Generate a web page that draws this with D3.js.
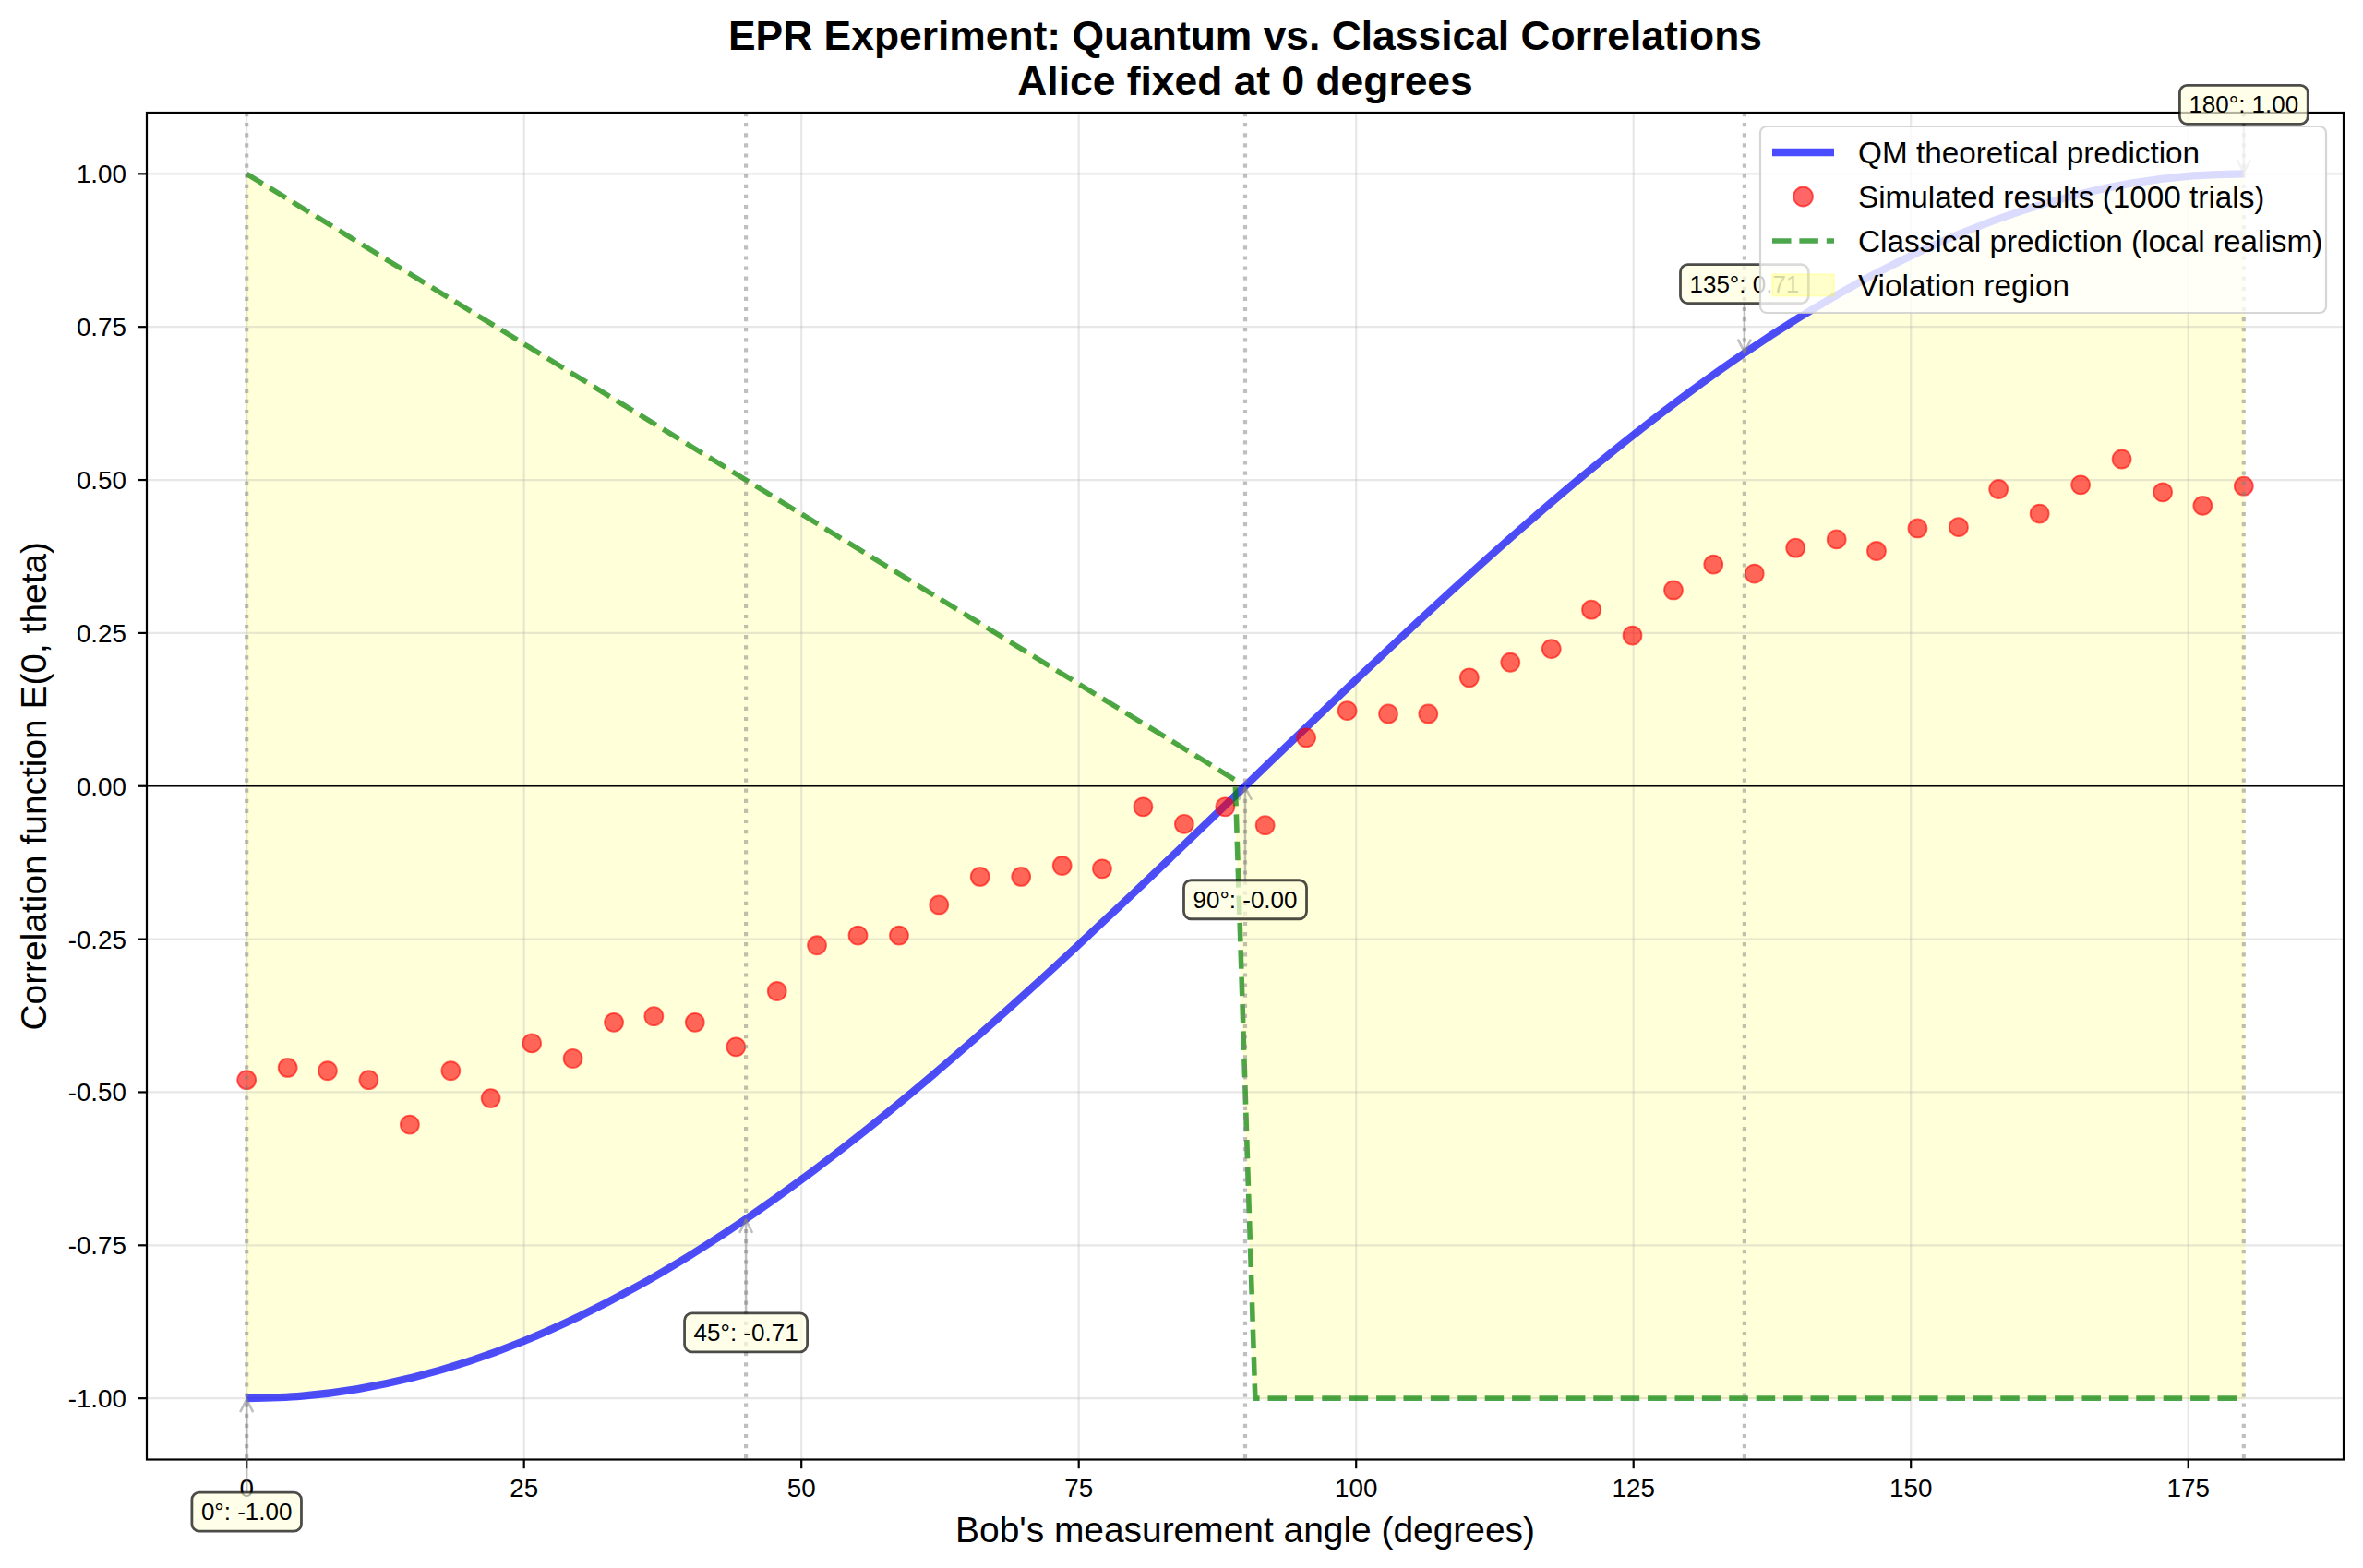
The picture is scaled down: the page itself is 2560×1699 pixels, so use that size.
<!doctype html>
<html>
<head>
<meta charset="utf-8">
<script src="https://d3js.org/d3.v7.min.js"></script>
<style>
  body { margin: 0; background: #fff; }
  svg text { font-family: "Liberation Sans", Arial, sans-serif; }
</style>
</head>
<body>
<svg id="svg" width="2560" height="1699"></svg>
<script>
// QM theoretical prediction, read every 5 degrees
const qmAngles = [0, 5, 10, 15, 20, 25, 30, 35, 40, 45, 50, 55, 60, 65, 70, 75, 80, 85, 90,
                  95, 100, 105, 110, 115, 120, 125, 130, 135, 140, 145, 150, 155, 160, 165, 170, 175, 180];
const qmValues = [-1.0, -0.9962, -0.9848, -0.9659, -0.9397, -0.9063, -0.866, -0.8192, -0.766, -0.7071,
                  -0.6428, -0.5736, -0.5, -0.4226, -0.342, -0.2588, -0.1736, -0.0872, 0.0,
                  0.0872, 0.1736, 0.2588, 0.342, 0.4226, 0.5, 0.5736, 0.6428, 0.7071, 0.766,
                  0.8192, 0.866, 0.9063, 0.9397, 0.9659, 0.9848, 0.9962, 1.0];

// classical (local realism) prediction
const clAngles = [0, 89.1, 90.9, 180];
const clValues = [1.0, 0.01, -1.0, -1.0];

// simulated results (1000 trials)
const simAngles = [0, 3.7, 7.3, 11.0, 14.7, 18.4, 22.0, 25.7, 29.4, 33.1, 36.7, 40.4, 44.1, 47.8,
                   51.4, 55.1, 58.8, 62.4, 66.1, 69.8, 73.5, 77.1, 80.8, 84.5, 88.2, 91.8, 95.5,
                   99.2, 102.9, 106.5, 110.2, 113.9, 117.6, 121.2, 124.9, 128.6, 132.2, 135.9,
                   139.6, 143.3, 146.9, 150.6, 154.3, 157.9, 161.6, 165.3, 169.0, 172.7, 176.3, 180.0];
const simValues = [-0.48, -0.46, -0.465, -0.48, -0.553, -0.465, -0.51, -0.42, -0.445, -0.386,
                   -0.376, -0.386, -0.426, -0.335, -0.26, -0.244, -0.244, -0.194, -0.148, -0.148,
                   -0.13, -0.135, -0.034, -0.062, -0.034, -0.064, 0.079, 0.123, 0.118, 0.118,
                   0.177, 0.202, 0.224, 0.288, 0.246, 0.32, 0.362, 0.347, 0.389, 0.403,
                   0.384, 0.421, 0.423, 0.485, 0.445, 0.492, 0.534, 0.48, 0.458, 0.49];

// annotated angles
const markAngles = [0, 45, 90, 135, 180];
const markValues = [-1.0, -0.7071, -0.0, 0.7071, 1.0];
const markLabels = ["0°: -1.00", "45°: -0.71", "90°: -0.00", "135°: 0.71", "180°: 1.00"];

const xTicks = [0, 25, 50, 75, 100, 125, 150, 175];
const yTicks = [-1.0, -0.75, -0.5, -0.25, 0.0, 0.25, 0.5, 0.75, 1.0];

const legendLabels = ["QM theoretical prediction", "Simulated results (1000 trials)",
                      "Classical prediction (local realism)", "Violation region"];

const margin = { left: 159, right: 2539, top: 122, bottom: 1581.5 };

const svg = d3.select("#svg");
const x = d3.scaleLinear().domain([-9, 189]).range([margin.left, margin.right]);
const y = d3.scaleLinear().domain([-1.1, 1.1]).range([margin.bottom, margin.top]);

const qm = qmAngles.map((a, i) => [a, qmValues[i]]);
const cl = clAngles.map((a, i) => [a, clValues[i]]);

const lineQM = d3.line().x(d => x(d[0])).y(d => y(d[1])).curve(d3.curveMonotoneX);
const lineCL = d3.line().x(d => x(d[0])).y(d => y(d[1]));

svg.append("defs").append("clipPath").attr("id", "clip")
  .append("rect")
  .attr("x", margin.left).attr("y", margin.top)
  .attr("width", margin.right - margin.left).attr("height", margin.bottom - margin.top);

const plot = svg.append("g").attr("clip-path", "url(#clip)");

// violation region fill
const fillPath = lineQM(qm) + lineCL(cl.slice().reverse()).replace(/^M/, "L") + "Z";
plot.append("path")
  .attr("d", fillPath)
  .attr("fill", "yellow").attr("fill-opacity", 0.15)
  .attr("stroke", "yellow").attr("stroke-opacity", 0.15).attr("stroke-width", 2);

// grid
plot.append("g").selectAll("line").data(xTicks).join("line")
  .attr("x1", d => x(d)).attr("x2", d => x(d))
  .attr("y1", margin.top).attr("y2", margin.bottom)
  .attr("stroke", "#b0b0b0").attr("stroke-opacity", 0.3).attr("stroke-width", 2.2);
plot.append("g").selectAll("line").data(yTicks).join("line")
  .attr("y1", d => y(d)).attr("y2", d => y(d))
  .attr("x1", margin.left).attr("x2", margin.right)
  .attr("stroke", "#b0b0b0").attr("stroke-opacity", 0.3).attr("stroke-width", 2.2);

// zero line
plot.append("line")
  .attr("x1", margin.left).attr("x2", margin.right)
  .attr("y1", y(0)).attr("y2", y(0))
  .attr("stroke", "#000").attr("stroke-width", 1.6);

// QM curve
plot.append("path").attr("d", lineQM(qm))
  .attr("fill", "none").attr("stroke", "blue").attr("stroke-opacity", 0.7)
  .attr("stroke-width", 8.3);

// simulated points
plot.append("g").selectAll("circle").data(simAngles).join("circle")
  .attr("cx", d => x(d)).attr("cy", (d, i) => y(simValues[i])).attr("r", 10)
  .attr("fill", "red").attr("fill-opacity", 0.6)
  .attr("stroke", "red").attr("stroke-opacity", 0.6).attr("stroke-width", 1.8);

// classical
plot.append("path").attr("d", lineCL(cl))
  .attr("fill", "none").attr("stroke", "green").attr("stroke-opacity", 0.7)
  .attr("stroke-width", 5.6).attr("stroke-dasharray", "20.5,8.9");

// vertical dotted lines at key angles
plot.append("g").selectAll("line").data(markAngles).join("line")
  .attr("x1", d => x(d)).attr("x2", d => x(d))
  .attr("y1", margin.top).attr("y2", margin.bottom)
  .attr("stroke", "gray").attr("stroke-opacity", 0.5)
  .attr("stroke-width", 4.2).attr("stroke-dasharray", "4.2,6.9");

// frame
svg.append("rect")
  .attr("x", margin.left).attr("y", margin.top)
  .attr("width", margin.right - margin.left).attr("height", margin.bottom - margin.top)
  .attr("fill", "none").attr("stroke", "#000").attr("stroke-width", 2.2);

// axes ticks
const xAxis = svg.append("g");
xTicks.forEach(t => {
  xAxis.append("line").attr("x1", x(t)).attr("x2", x(t))
    .attr("y1", margin.bottom).attr("y2", margin.bottom + 9.7)
    .attr("stroke", "#000").attr("stroke-width", 2.2);
  xAxis.append("text").attr("x", x(t)).attr("y", 1622)
    .attr("text-anchor", "middle").attr("font-size", 27.8).text(t);
});
const yAxis = svg.append("g");
yTicks.forEach(t => {
  yAxis.append("line").attr("x1", margin.left - 9.7).attr("x2", margin.left)
    .attr("y1", y(t)).attr("y2", y(t))
    .attr("stroke", "#000").attr("stroke-width", 2.2);
  yAxis.append("text").attr("x", 137).attr("y", y(t) + 10)
    .attr("text-anchor", "end").attr("font-size", 27.8).text(t.toFixed(2));
});

// axis labels
svg.append("text").attr("x", (margin.left + margin.right) / 2).attr("y", 1671)
  .attr("text-anchor", "middle").attr("font-size", 38.9)
  .text("Bob's measurement angle (degrees)");
svg.append("text")
  .attr("transform", `translate(50, ${(margin.top + margin.bottom) / 2}) rotate(-90)`)
  .attr("text-anchor", "middle").attr("font-size", 38.9)
  .text("Correlation function E(0, theta)");

// title
const title = svg.append("text").attr("text-anchor", "middle")
  .attr("font-size", 44.4).attr("font-weight", "bold");
title.append("tspan").attr("x", (margin.left + margin.right) / 2).attr("y", 54)
  .text("EPR Experiment: Quantum vs. Classical Correlations");
title.append("tspan").attr("x", (margin.left + margin.right) / 2).attr("y", 103)
  .text("Alice fixed at 0 degrees");

// annotations
const ann = svg.append("g");
markAngles.forEach((a, i) => {
  const v = markValues[i];
  const px = x(a), py = y(v);
  const below = markLabels[i].includes("-");
  const cy = below ? py + 123 : py - 75;
  const g = ann.append("g");
  const arrow = g.append("g");
  const box = g.append("rect");
  const txt = g.append("text").attr("x", px).attr("y", cy).attr("dy", "0.35em")
    .attr("text-anchor", "middle").attr("font-size", 26).text(markLabels[i]);
  const w = txt.node().getComputedTextLength() + 20, h = 42;
  box.attr("x", px - w / 2).attr("y", cy - h / 2).attr("width", w).attr("height", h)
    .attr("rx", 8).attr("ry", 8)
    .attr("fill", "#ffffe0").attr("fill-opacity", 0.7)
    .attr("stroke", "#000").attr("stroke-opacity", 0.7).attr("stroke-width", 2.8);
  const y0 = below ? cy - h / 2 : cy + h / 2;
  const dir = below ? 1 : -1;
  arrow.append("line").attr("x1", px).attr("x2", px).attr("y1", y0).attr("y2", py + dir * 1)
    .attr("stroke", "gray").attr("stroke-opacity", 0.5).attr("stroke-width", 2.5);
  arrow.append("polyline")
    .attr("points", `${px - 7},${py + dir * 15} ${px},${py + dir * 1} ${px + 7},${py + dir * 15}`)
    .attr("fill", "none").attr("stroke", "gray").attr("stroke-opacity", 0.5).attr("stroke-width", 2.5);
});

// legend
const lg = svg.append("g");
const lx = 1907, ly = 137, lw = 613, lh = 202;
lg.append("rect").attr("x", lx).attr("y", ly).attr("width", lw).attr("height", lh)
  .attr("rx", 7).attr("ry", 7)
  .attr("fill", "#fff").attr("fill-opacity", 0.8)
  .attr("stroke", "#ccc").attr("stroke-opacity", 0.8).attr("stroke-width", 2.2);
const rowY = i => 165 + i * 48;
const hx0 = 1920, hx1 = 1987;
lg.append("line").attr("x1", hx0).attr("x2", hx1).attr("y1", rowY(0)).attr("y2", rowY(0))
  .attr("stroke", "blue").attr("stroke-opacity", 0.7).attr("stroke-width", 8.3);
lg.append("circle").attr("cx", (hx0 + hx1) / 2).attr("cy", rowY(1)).attr("r", 10.5)
  .attr("fill", "red").attr("fill-opacity", 0.6)
  .attr("stroke", "red").attr("stroke-opacity", 0.6).attr("stroke-width", 1.8);
lg.append("line").attr("x1", hx0).attr("x2", hx1).attr("y1", rowY(2)).attr("y2", rowY(2))
  .attr("stroke", "green").attr("stroke-opacity", 0.7).attr("stroke-width", 5.6)
  .attr("stroke-dasharray", "20.5,8.9");
lg.append("rect").attr("x", hx0).attr("y", rowY(3) - 11.7).attr("width", hx1 - hx0).attr("height", 23.3)
  .attr("fill", "yellow").attr("fill-opacity", 0.2)
  .attr("stroke", "yellow").attr("stroke-opacity", 0.2).attr("stroke-width", 2);
legendLabels.forEach((t, i) => {
  lg.append("text").attr("x", 2013).attr("y", rowY(i)).attr("dy", "0.35em")
    .attr("font-size", 33.3).text(t);
});
</script>
</body>
</html>
